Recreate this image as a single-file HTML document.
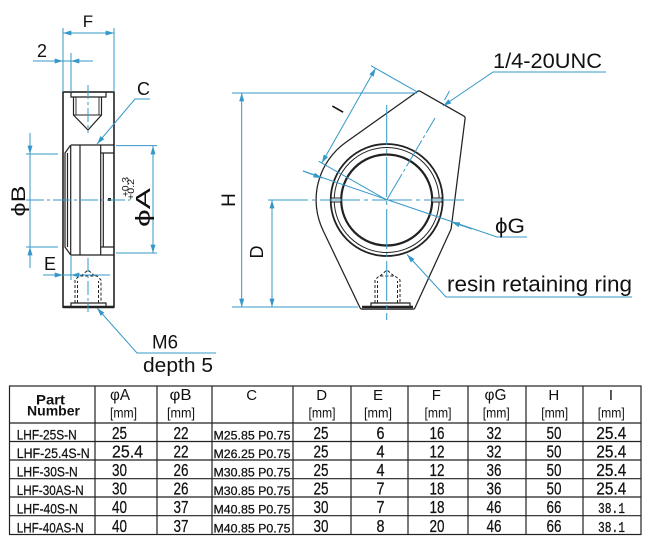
<!DOCTYPE html>
<html><head><meta charset="utf-8"><style>
html,body{margin:0;padding:0;background:#fff;}
svg{display:block;}
text{font-family:"Liberation Sans",Arial,sans-serif;fill:#111;}
.d text{stroke:#111;stroke-width:0.25;}
</style></head><body>
<svg width="648" height="544" viewBox="0 0 648 544" xmlns="http://www.w3.org/2000/svg">
<defs>
<marker id="a" viewBox="0 0 10 6" refX="10" refY="3" markerWidth="10" markerHeight="5" markerUnits="userSpaceOnUse" orient="auto-start-reverse"><path d="M0,0 L10,3 L0,6 z" fill="#3598c8"/></marker>
</defs>
<rect width="648" height="544" fill="#fff"/>

<!-- ========== LEFT VIEW ========== -->
<g fill="none" stroke="#222" stroke-width="1.2">
<rect x="63" y="92" width="51" height="215" stroke-width="1.6"/>
<line x1="63" y1="307" x2="114" y2="307" stroke-width="2.4"/>
<path d="M71,92 V97 H106 V92"/>
<path d="M73.5,97 V115 L88,130 L101.5,115 V97"/>
<path d="M76,97 V115 M99,97 V115 M73.5,115 H101.5" stroke-width="0.9"/>
<path d="M71,145 H114 M71,255 H114"/>
<path d="M70.7,145 L65,153 V247 L70.7,255 M70.7,145 V255 M67.5,153 V247 M80,145 V255 M100.7,145 V255 M103.3,153 V247 M100.7,153 H114 M100.7,247 H114"/>
<path d="M71,307 V303 H106 V307"/>
<g stroke-dasharray="3,2" stroke-width="1">
<path d="M75,303 V280 L79,276 H97 L101,280 V303"/>
<path d="M77.5,303 V281 M98.5,303 V281"/>
<path d="M81,276 L88,270 L95,276"/>
</g>
</g>
<rect x="108" y="198" width="3" height="3" fill="#222"/>

<g stroke="#3598c8" stroke-width="1" fill="none">
<path d="M63,28 V92 M114,28 V92"/>
<line x1="63" y1="33" x2="114" y2="33" marker-start="url(#a)" marker-end="url(#a)"/>
<path d="M71,53 V92"/>
<path d="M33,61 H93"/>
<line x1="50" y1="61" x2="63" y2="61" marker-end="url(#a)"/>
<line x1="85" y1="61" x2="71" y2="61" marker-end="url(#a)"/>
<path d="M150,99 H135 L97,144" marker-end="url(#a)"/>
<path d="M30,133 V268 M26,154 H58 M26,247 H58"/>
<line x1="30" y1="140" x2="30" y2="154" marker-end="url(#a)"/>
<line x1="30" y1="262" x2="30" y2="247" marker-end="url(#a)"/>
<path d="M26,200 H130" stroke-dasharray="18,3,3,3"/>
<path d="M116,145.6 H157 M116,253 H157"/>
<line x1="153" y1="146" x2="153" y2="253" marker-start="url(#a)" marker-end="url(#a)"/>
<path d="M71,255 V280"/>
<path d="M43,275 H110"/>
<line x1="50" y1="275" x2="63" y2="275" marker-end="url(#a)"/>
<line x1="84" y1="275" x2="71" y2="275" marker-end="url(#a)"/>
<path d="M88,258 V312 M88,85 V133" stroke-dasharray="14,3,3,3"/>
<path d="M216,353 H137 L97,308" marker-end="url(#a)"/>
</g>

<text x="88" y="27" font-size="17" text-anchor="middle">F</text>
<text x="42" y="57" font-size="18" text-anchor="middle">2</text>
<text x="143.5" y="95" font-size="18" text-anchor="middle">C</text>
<text transform="translate(25,201) rotate(-90)" font-size="19" text-anchor="middle" textLength="31" lengthAdjust="spacingAndGlyphs">ϕB</text>
<text transform="translate(150,227) rotate(-90)" font-size="20" textLength="39" lengthAdjust="spacingAndGlyphs">ϕA</text>
<text transform="translate(128.5,197) rotate(-90)" font-size="9.5" textLength="20" lengthAdjust="spacingAndGlyphs">+0.3</text>
<text transform="translate(134,200) rotate(-90)" font-size="9.5" textLength="21" lengthAdjust="spacingAndGlyphs">+0.2</text>
<text x="50" y="270" font-size="18" text-anchor="middle">E</text>
<text x="152" y="348.5" font-size="19" textLength="26" lengthAdjust="spacingAndGlyphs">M6</text>
<text x="143" y="372" font-size="20" textLength="70" lengthAdjust="spacingAndGlyphs">depth 5</text>

<!-- ========== RIGHT VIEW ========== -->
<path d="M419,93 L463,118 L449,228.5 L413,307 L362,307 L325,229.6 A68.5,68.5 0 0 1 347,144.1 Z" fill="#fff" stroke="#222" stroke-width="5.5" stroke-linejoin="round"/>
<path d="M419,93 L463,118 L449,228.5 L413,307 L362,307 L325,229.6 A68.5,68.5 0 0 1 347,144.1 Z" fill="#fff" stroke="#fff" stroke-width="3" stroke-linejoin="round"/>
<line x1="362" y1="307" x2="413" y2="307" stroke="#222" stroke-width="2.5"/>
<g fill="none" stroke="#222">
<circle cx="386.7" cy="200" r="56" stroke-width="1.8"/>
<circle cx="386.7" cy="200" r="52.5" stroke-width="1"/>
<circle cx="386.7" cy="200" r="45.5" stroke-width="2.2"/>
<rect x="331" y="198" width="10" height="4" stroke-width="1" fill="#fff"/>
<rect x="432" y="198" width="10" height="4" stroke-width="1" fill="#fff"/>
<path d="M371,307 V303 H410 V307" stroke-width="1.2"/>
<g stroke-dasharray="3,2" stroke-width="1">
<path d="M375,303 V280 L379,276 H395 L400,280 V303"/>
<path d="M377.5,303 V281 M397.5,303 V281"/>
<path d="M380,276 L387,270 L394,276"/>
</g>
</g>

<g stroke="#3598c8" stroke-width="1" fill="none">
<path d="M232,93 H417 M232,307 H358"/>
<line x1="241.7" y1="93" x2="241.7" y2="307" marker-start="url(#a)" marker-end="url(#a)"/>
<line x1="272" y1="200" x2="272" y2="307" marker-start="url(#a)" marker-end="url(#a)"/>
<path d="M268,200 H467 M386.7,105 V320" stroke-dasharray="40,4,4,4"/>
<path d="M371,65.7 L417,91.8 M318.6,161.2 L386.7,200"/>
<line x1="375.6" y1="68.3" x2="321.8" y2="163" marker-start="url(#a)" marker-end="url(#a)"/>
<path d="M386.7,200 L435,118 M444.5,100 L449.5,91" stroke-dasharray="30,3,3,3"/>
<path d="M303,171 L497,237 H527"/>
<line x1="303" y1="171" x2="321.8" y2="178" marker-end="url(#a)"/>
<line x1="472" y1="229" x2="451.6" y2="222" marker-end="url(#a)"/>
<path d="M606,72 H493 L443,106" marker-end="url(#a)"/>
<path d="M632,297 H446 L407,254.5" marker-end="url(#a)"/>
</g>

<text transform="translate(235,200) rotate(-90)" font-size="19" text-anchor="middle">H</text>
<text transform="translate(263,252) rotate(-90)" font-size="18" text-anchor="middle">D</text>
<text transform="translate(337.5,109) rotate(-60.4)" y="6.5" font-size="18" text-anchor="middle">I</text>
<text x="495" y="233" font-size="21" textLength="30" lengthAdjust="spacingAndGlyphs">ϕG</text>
<text x="493" y="68" font-size="21" textLength="109" lengthAdjust="spacingAndGlyphs">1/4-20UNC</text>
<text x="447" y="291.5" font-size="22" textLength="185" lengthAdjust="spacingAndGlyphs">resin retaining ring</text>

<!-- ========== TABLE ========== -->
<g stroke="#222" stroke-width="1.2" fill="none">
<rect x="9.5" y="386" width="631.5" height="148.5"/>
<path d="M9.5,423 H641 M9.5,441.5 H641 M9.5,460 H641 M9.5,478.7 H641 M9.5,497 H641 M9.5,515.7 H641"/>
<path d="M95,386 V534.5 M157,386 V534.5 M212,386 V534.5 M293,386 V534.5 M351,386 V534.5 M408,386 V534.5 M468,386 V534.5 M526,386 V534.5 M583,386 V534.5"/>
</g>

<g>
<text x="50.5" y="404.5" font-size="14" font-weight="bold" text-anchor="middle" textLength="29" lengthAdjust="spacingAndGlyphs">Part</text>
<text x="53.5" y="415.5" font-size="14" font-weight="bold" text-anchor="middle" textLength="53" lengthAdjust="spacingAndGlyphs">Number</text>
<text x="110" y="400" font-size="16" textLength="20" lengthAdjust="spacingAndGlyphs">φA</text>
<text x="110" y="417.5" font-size="14" textLength="27" lengthAdjust="spacingAndGlyphs">[mm]</text>
<text x="180.5" y="400" font-size="16" text-anchor="middle" textLength="22" lengthAdjust="spacingAndGlyphs">φB</text>
<text x="181" y="417.5" font-size="14" text-anchor="middle" textLength="28" lengthAdjust="spacingAndGlyphs">[mm]</text>
<text x="251.7" y="400" font-size="15" text-anchor="middle">C</text>
<text x="321.7" y="400" font-size="15" text-anchor="middle">D</text>
<text x="322" y="417.5" font-size="14" text-anchor="middle" textLength="27" lengthAdjust="spacingAndGlyphs">[mm]</text>
<text x="378" y="400" font-size="15" text-anchor="middle">E</text>
<text x="378" y="417.5" font-size="14" text-anchor="middle" textLength="28" lengthAdjust="spacingAndGlyphs">[mm]</text>
<text x="436.3" y="400" font-size="15" text-anchor="middle">F</text>
<text x="438" y="417.5" font-size="14" text-anchor="middle" textLength="27" lengthAdjust="spacingAndGlyphs">[mm]</text>
<text x="495.5" y="400" font-size="16" text-anchor="middle" textLength="22" lengthAdjust="spacingAndGlyphs">φG</text>
<text x="496.3" y="417.5" font-size="14" text-anchor="middle" textLength="27" lengthAdjust="spacingAndGlyphs">[mm]</text>
<text x="553.8" y="400" font-size="15" text-anchor="middle">H</text>
<text x="554.7" y="417.5" font-size="14" text-anchor="middle" textLength="27" lengthAdjust="spacingAndGlyphs">[mm]</text>
<text x="611" y="400" font-size="15" text-anchor="middle">I</text>
<text x="611.3" y="417.5" font-size="14" text-anchor="middle" textLength="27" lengthAdjust="spacingAndGlyphs">[mm]</text>
</g>

<!-- row 1 -->
<g class="d" font-size="17.5">
<text x="16.7" y="439.3" font-size="14" textLength="60" lengthAdjust="spacingAndGlyphs">LHF-25S-N</text>
<text x="112" y="439" textLength="15" lengthAdjust="spacingAndGlyphs">25</text>
<text x="181" y="439" text-anchor="middle" textLength="15" lengthAdjust="spacingAndGlyphs">22</text>
<text x="213.5" y="439.3" font-size="11.5" textLength="77" lengthAdjust="spacingAndGlyphs">M25.85 P0.75</text>
<text x="321" y="439" text-anchor="middle" textLength="15" lengthAdjust="spacingAndGlyphs">25</text>
<text x="380.5" y="439" text-anchor="middle" textLength="8" lengthAdjust="spacingAndGlyphs">6</text>
<text x="437" y="439" text-anchor="middle" textLength="15" lengthAdjust="spacingAndGlyphs">16</text>
<text x="494" y="439" text-anchor="middle" textLength="15" lengthAdjust="spacingAndGlyphs">32</text>
<text x="554" y="439" text-anchor="middle" textLength="15" lengthAdjust="spacingAndGlyphs">50</text>
<text x="611.3" y="439" text-anchor="middle" textLength="30" lengthAdjust="spacingAndGlyphs">25.4</text>
</g>
<!-- row 2 -->
<g class="d" font-size="17.5">
<text x="16.7" y="457.8" font-size="14" textLength="73" lengthAdjust="spacingAndGlyphs">LHF-25.4S-N</text>
<text x="112" y="457.5" textLength="31" lengthAdjust="spacingAndGlyphs">25.4</text>
<text x="181" y="457.5" text-anchor="middle" textLength="15" lengthAdjust="spacingAndGlyphs">22</text>
<text x="213.5" y="457.8" font-size="11.5" textLength="77" lengthAdjust="spacingAndGlyphs">M26.25 P0.75</text>
<text x="321" y="457.5" text-anchor="middle" textLength="15" lengthAdjust="spacingAndGlyphs">25</text>
<text x="380.5" y="457.5" text-anchor="middle" textLength="8" lengthAdjust="spacingAndGlyphs">4</text>
<text x="437" y="457.5" text-anchor="middle" textLength="15" lengthAdjust="spacingAndGlyphs">12</text>
<text x="494" y="457.5" text-anchor="middle" textLength="15" lengthAdjust="spacingAndGlyphs">32</text>
<text x="554" y="457.5" text-anchor="middle" textLength="15" lengthAdjust="spacingAndGlyphs">50</text>
<text x="611.3" y="457.5" text-anchor="middle" textLength="30" lengthAdjust="spacingAndGlyphs">25.4</text>
</g>
<!-- row 3 -->
<g class="d" font-size="17.5">
<text x="16.7" y="476.5" font-size="14" textLength="61" lengthAdjust="spacingAndGlyphs">LHF-30S-N</text>
<text x="112" y="476.2" textLength="15" lengthAdjust="spacingAndGlyphs">30</text>
<text x="181" y="476.2" text-anchor="middle" textLength="15" lengthAdjust="spacingAndGlyphs">26</text>
<text x="213.5" y="476.5" font-size="11.5" textLength="77" lengthAdjust="spacingAndGlyphs">M30.85 P0.75</text>
<text x="321" y="476.2" text-anchor="middle" textLength="15" lengthAdjust="spacingAndGlyphs">25</text>
<text x="380.5" y="476.2" text-anchor="middle" textLength="8" lengthAdjust="spacingAndGlyphs">4</text>
<text x="437" y="476.2" text-anchor="middle" textLength="15" lengthAdjust="spacingAndGlyphs">12</text>
<text x="494" y="476.2" text-anchor="middle" textLength="15" lengthAdjust="spacingAndGlyphs">36</text>
<text x="554" y="476.2" text-anchor="middle" textLength="15" lengthAdjust="spacingAndGlyphs">50</text>
<text x="611.3" y="476.2" text-anchor="middle" textLength="30" lengthAdjust="spacingAndGlyphs">25.4</text>
</g>
<!-- row 4 -->
<g class="d" font-size="17.5">
<text x="16.7" y="494.8" font-size="14" textLength="67" lengthAdjust="spacingAndGlyphs">LHF-30AS-N</text>
<text x="112" y="494.5" textLength="15" lengthAdjust="spacingAndGlyphs">30</text>
<text x="181" y="494.5" text-anchor="middle" textLength="15" lengthAdjust="spacingAndGlyphs">26</text>
<text x="213.5" y="494.8" font-size="11.5" textLength="77" lengthAdjust="spacingAndGlyphs">M30.85 P0.75</text>
<text x="321" y="494.5" text-anchor="middle" textLength="15" lengthAdjust="spacingAndGlyphs">25</text>
<text x="380.5" y="494.5" text-anchor="middle" textLength="8" lengthAdjust="spacingAndGlyphs">7</text>
<text x="437" y="494.5" text-anchor="middle" textLength="15" lengthAdjust="spacingAndGlyphs">18</text>
<text x="494" y="494.5" text-anchor="middle" textLength="15" lengthAdjust="spacingAndGlyphs">36</text>
<text x="554" y="494.5" text-anchor="middle" textLength="15" lengthAdjust="spacingAndGlyphs">50</text>
<text x="611.3" y="494.5" text-anchor="middle" textLength="30" lengthAdjust="spacingAndGlyphs">25.4</text>
</g>
<!-- row 5 -->
<g class="d" font-size="17.5">
<text x="16.7" y="513.5" font-size="14" textLength="61" lengthAdjust="spacingAndGlyphs">LHF-40S-N</text>
<text x="112" y="513.2" textLength="15" lengthAdjust="spacingAndGlyphs">40</text>
<text x="181" y="513.2" text-anchor="middle" textLength="15" lengthAdjust="spacingAndGlyphs">37</text>
<text x="213.5" y="513.5" font-size="11.5" textLength="77" lengthAdjust="spacingAndGlyphs">M40.85 P0.75</text>
<text x="321" y="513.2" text-anchor="middle" textLength="15" lengthAdjust="spacingAndGlyphs">30</text>
<text x="380.5" y="513.2" text-anchor="middle" textLength="8" lengthAdjust="spacingAndGlyphs">7</text>
<text x="437" y="513.2" text-anchor="middle" textLength="15" lengthAdjust="spacingAndGlyphs">18</text>
<text x="494" y="513.2" text-anchor="middle" textLength="15" lengthAdjust="spacingAndGlyphs">46</text>
<text x="554" y="513.2" text-anchor="middle" textLength="15" lengthAdjust="spacingAndGlyphs">66</text>
<text x="611.5" y="513" text-anchor="middle" font-size="15" style="font-family:'Liberation Mono',monospace" textLength="27" lengthAdjust="spacingAndGlyphs">38.1</text>
</g>
<!-- row 6 -->
<g class="d" font-size="17.5">
<text x="16.7" y="532.3" font-size="14" textLength="67" lengthAdjust="spacingAndGlyphs">LHF-40AS-N</text>
<text x="112" y="532" textLength="15" lengthAdjust="spacingAndGlyphs">40</text>
<text x="181" y="532" text-anchor="middle" textLength="15" lengthAdjust="spacingAndGlyphs">37</text>
<text x="213.5" y="532.3" font-size="11.5" textLength="77" lengthAdjust="spacingAndGlyphs">M40.85 P0.75</text>
<text x="321" y="532" text-anchor="middle" textLength="15" lengthAdjust="spacingAndGlyphs">30</text>
<text x="380.5" y="532" text-anchor="middle" textLength="8" lengthAdjust="spacingAndGlyphs">8</text>
<text x="437" y="532" text-anchor="middle" textLength="15" lengthAdjust="spacingAndGlyphs">20</text>
<text x="494" y="532" text-anchor="middle" textLength="15" lengthAdjust="spacingAndGlyphs">46</text>
<text x="554" y="532" text-anchor="middle" textLength="15" lengthAdjust="spacingAndGlyphs">66</text>
<text x="611.5" y="531.8" text-anchor="middle" font-size="15" style="font-family:'Liberation Mono',monospace" textLength="27" lengthAdjust="spacingAndGlyphs">38.1</text>
</g>
</svg>
</body></html>
